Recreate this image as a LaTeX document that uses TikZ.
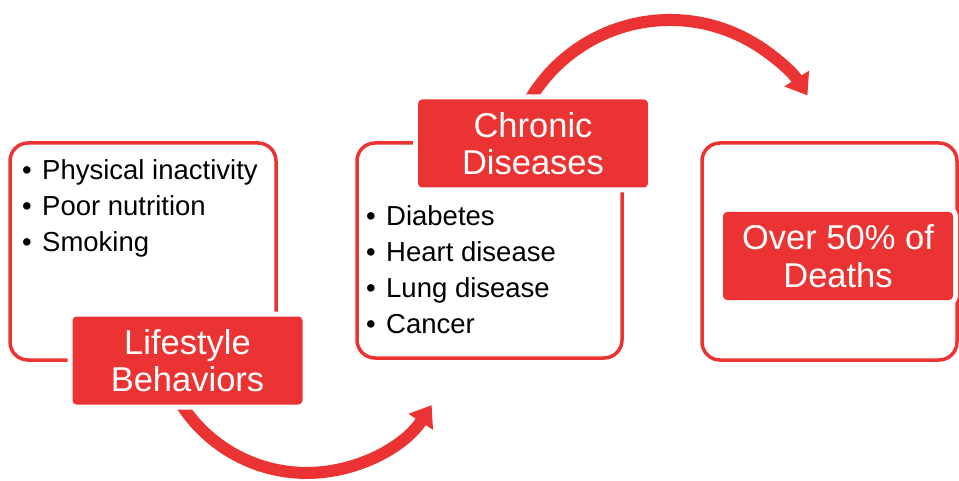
\documentclass[tikz,border=0pt]{standalone}
\usepackage{fontspec}
\setmainfont{Liberation Sans}
\usetikzlibrary{arrows.meta,positioning}
\definecolor{vitalRed}{HTML}{EC3333}
\newcommand{\bulletitem}[1]{\makebox[20pt][l]{\textbullet}#1}

\begin{document}
\begin{tikzpicture}[
  x=1pt, y=1pt,
  frame/.style={rectangle, rounded corners=18pt, draw=vitalRed, line width=3.5pt, inner sep=0pt},
  tag/.style={rectangle, rounded corners=4pt, fill=vitalRed, text=white, preaction={draw=white, line width=10pt}, minimum width=230pt, minimum height=88pt, inner sep=0pt, align=center, font=\fontsize{34.5}{37.5}\selectfont},
  items/.style={anchor=north west, inner sep=0pt, align=left, font=\fontsize{27.5}{36}\selectfont},
  bigarrow/.style={-{Triangle[length=20pt, width=28pt]}, line width=12pt, draw=vitalRed}
]
\useasboundingbox (0,0) rectangle (959,480);
\node[frame, minimum width=266pt, minimum height=217pt] (habits) at (143,228.5) {};
\node[frame, minimum width=265pt, minimum height=215pt] (illness) at (489.5,229.5) {};
\node[frame, minimum width=255pt, minimum height=217pt] (outcome) at (829.5,228.5) {};
\coordinate (lowStart) at (180.3,77.1);
\coordinate (highStart) at (528.8,378.5);
\draw[bigarrow] (lowStart) arc[start angle=212, end angle=327, radius=149];
\draw[bigarrow] (highStart) arc[start angle=150, end angle=32.5, radius=163];
\node[tag] (habitsTag) at (187.5,119.5) {Lifestyle\\Behaviors};
\node[tag] (illnessTag) at (533,336.5) {Chronic\\Diseases};
\node[tag] (outcomeTag) at (838,224) {Over 50\% of\\Deaths};
\node[items] (habitsList) at (22,321) {\bulletitem{Physical inactivity}\\\bulletitem{Poor nutrition}\\\bulletitem{Smoking}};
\node[items] (illnessList) at (366,274.5) {\bulletitem{Diabetes}\\\bulletitem{Heart disease}\\\bulletitem{Lung disease}\\\bulletitem{Cancer}};
\end{tikzpicture}
\end{document}
